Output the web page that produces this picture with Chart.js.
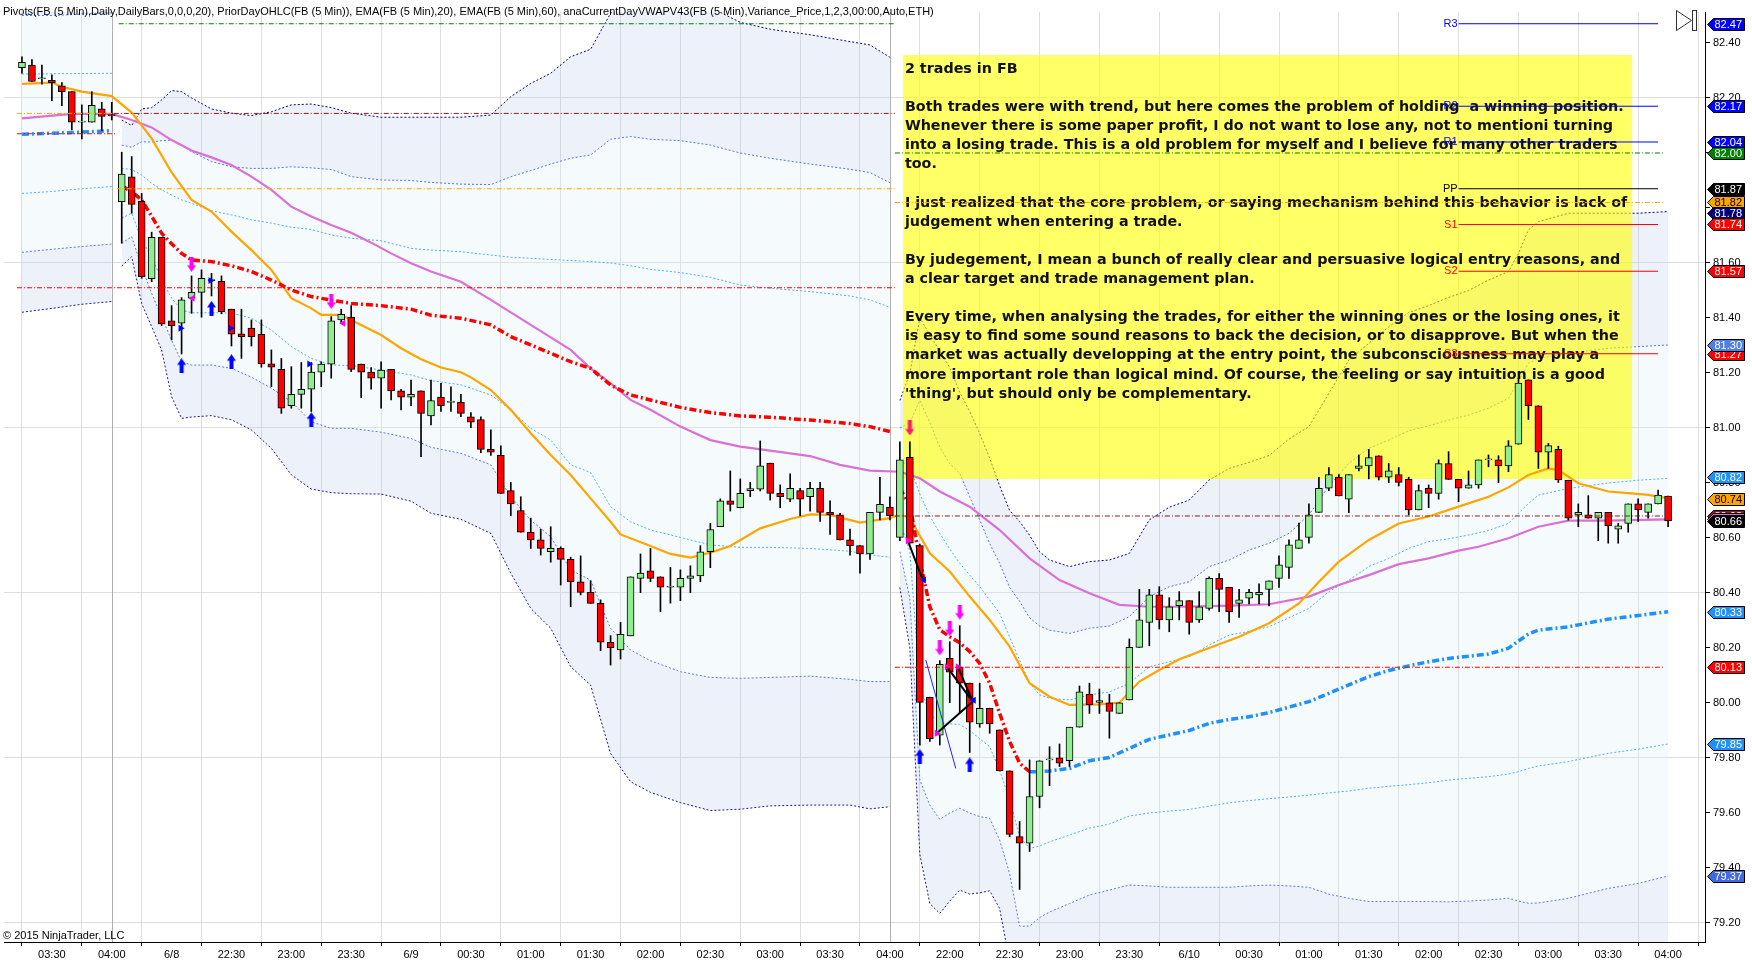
<!DOCTYPE html>
<html><head><meta charset="utf-8">
<script src="https://cdn.jsdelivr.net/npm/chart.js@4.4.1/dist/chart.umd.min.js"></script>
<style>html,body{margin:0;padding:0;background:#fff;overflow:hidden}canvas{display:block}</style>
</head><body>
<canvas id="c" width="1752" height="969"></canvas>
<script>
// ---------- DATA ----------
const openP = [82.31,82.32,82.27,82.264,82.244,82.223,82.112,82.112,82.161,82.14,
81.823,81.913,81.824,81.543,81.693,81.39,81.381,81.472,81.493,81.536,
81.533,81.432,81.342,81.363,81.341,81.233,81.213,81.081,81.122,81.141,
81.203,81.232,81.393,81.403,81.232,81.203,81.181,81.213,81.135,81.112,
81.135,81.044,81.112,81.093,81.093,81.041,81.031,80.922,80.901,80.772,
80.7,80.621,80.593,80.55,80.562,80.522,80.441,80.402,80.362,80.221,
80.193,80.244,80.453,80.481,80.459,80.421,80.421,80.453,80.462,80.55,
80.641,80.735,80.71,80.772,80.778,80.872,80.762,80.741,80.772,80.75,
80.781,80.693,80.684,80.593,80.572,80.542,80.693,80.712,80.602,80.893,
80.572,80.021,79.883,80.162,80.13,80.072,79.924,79.981,79.902,79.753,
79.514,79.49,79.66,79.793,79.801,79.79,79.912,80.032,80.002,80.001,
79.962,80.011,80.202,80.293,80.393,80.302,80.354,80.372,80.302,80.344,
80.453,80.421,80.362,80.381,80.393,80.413,80.453,80.493,80.562,80.602,
80.693,80.781,80.821,80.741,80.853,80.862,80.899,80.821,80.831,80.813,
80.702,80.781,80.762,80.871,80.813,80.781,80.793,80.884,80.884,80.862,
80.941,81.175,81.081,80.912,80.922,80.81,80.684,80.684,80.672,80.693,
80.632,80.653,80.724,80.693,80.724,80.752];
const highP = [82.35,82.34,82.32,82.284,82.256,82.223,82.175,82.223,82.184,82.184,
82.003,81.987,81.853,81.712,81.693,81.445,81.474,81.553,81.575,81.562,
81.553,81.432,81.432,81.393,81.393,81.284,81.253,81.223,81.238,81.238,
81.241,81.405,81.432,81.445,81.232,81.22,81.241,81.213,81.141,81.174,
81.135,81.174,81.162,81.15,81.122,81.056,81.041,80.993,80.935,80.802,
80.75,80.672,80.632,80.641,80.568,80.53,80.535,80.444,80.375,80.245,
80.293,80.459,80.542,80.562,80.459,80.493,80.484,80.499,80.572,80.653,
80.742,80.844,80.815,80.802,80.953,80.872,80.793,80.833,80.781,80.802,
80.802,80.735,80.69,80.632,80.572,80.693,80.821,80.75,80.95,80.95,
80.578,80.021,80.154,80.223,80.281,80.072,80.072,79.981,79.902,79.753,
79.569,79.793,79.79,79.841,79.851,79.912,80.062,80.072,80.051,80.032,
80.001,80.233,80.413,80.413,80.423,80.383,80.405,80.372,80.405,80.459,
80.471,80.421,80.413,80.413,80.433,80.444,80.535,80.593,80.654,80.724,
80.821,80.856,80.831,80.831,80.902,80.922,80.899,80.871,80.856,80.821,
80.793,80.793,80.884,80.914,80.813,80.844,80.884,80.902,80.899,80.954,
81.181,81.175,81.081,80.944,80.934,80.81,80.724,80.754,80.693,80.693,
80.653,80.724,80.742,80.724,80.774,80.752];
const lowP = [82.29,82.26,82.25,82.19,82.172,82.084,82.051,82.112,82.081,82.12,
81.672,81.781,81.544,81.532,81.372,81.32,81.269,81.417,81.403,81.48,
81.415,81.298,81.253,81.298,81.221,81.15,81.053,81.072,81.072,81.06,
81.15,81.181,81.381,81.205,81.11,81.141,81.072,81.102,81.066,81.081,
80.896,81.011,81.06,81.06,81.041,81.001,80.91,80.9,80.762,80.681,
80.621,80.562,80.538,80.512,80.429,80.35,80.393,80.362,80.19,80.138,
80.16,80.244,80.401,80.441,80.332,80.363,80.372,80.401,80.441,80.492,
80.641,80.698,80.71,80.75,80.771,80.738,80.71,80.732,80.68,80.698,
80.66,80.613,80.593,80.538,80.472,80.522,80.666,80.666,80.59,80.581,
79.847,79.86,79.847,80.001,79.965,79.82,79.912,79.89,79.753,79.514,
79.322,79.46,79.619,79.699,79.769,79.769,79.912,79.962,79.962,79.872,
79.962,80.011,80.202,80.208,80.269,80.259,80.302,80.25,80.293,80.338,
80.332,80.293,80.311,80.36,80.36,80.353,80.42,80.453,80.562,80.581,
80.693,80.772,80.753,80.692,80.844,80.815,80.811,80.801,80.789,80.684,
80.702,80.71,80.741,80.813,80.732,80.781,80.781,80.859,80.801,80.841,
80.941,81.031,80.853,80.853,80.802,80.665,80.641,80.672,80.59,80.581,
80.581,80.621,80.66,80.672,80.724,80.641];
const closeP = [82.33,82.26,82.27,82.256,82.223,82.112,82.112,82.173,82.133,82.135,
81.923,81.813,81.55,81.693,81.378,81.372,81.466,81.493,81.544,81.536,
81.423,81.341,81.332,81.332,81.233,81.221,81.072,81.122,81.141,81.203,
81.232,81.39,81.413,81.213,81.203,81.181,81.211,81.135,81.112,81.122,
81.053,81.1,81.081,81.093,81.053,81.021,80.922,80.912,80.762,80.724,
80.621,80.593,80.562,80.562,80.522,80.441,80.402,80.362,80.221,80.201,
80.25,80.459,80.472,80.453,80.421,80.421,80.453,80.462,80.55,80.631,
80.735,80.722,80.762,80.78,80.862,80.762,80.75,80.781,80.741,80.781,
80.693,80.684,80.593,80.572,80.542,80.693,80.722,80.681,80.884,80.581,
80.002,79.87,80.141,80.112,80.072,79.93,79.981,79.924,79.753,79.522,
79.49,79.66,79.79,79.793,79.781,79.912,80.041,79.993,80.009,79.969,
80.001,80.202,80.302,80.393,80.302,80.35,80.372,80.293,80.35,80.453,
80.413,80.332,80.375,80.402,80.402,80.444,80.502,80.575,80.593,80.684,
80.781,80.831,80.753,80.831,80.862,80.892,80.821,80.844,80.802,80.702,
80.772,80.762,80.871,80.813,80.781,80.793,80.884,80.884,80.862,80.935,
81.163,81.081,80.912,80.936,80.811,80.672,80.693,80.672,80.693,80.644,
80.644,80.724,80.702,80.724,80.756,80.662];

const tickIdx = [3,9,15,21,27,33,39,45,51,57,63,69,75,81,87,93,99,105,111,117,123,129,135,141,147,153,159,165];
const tickText = ['03:30','04:00','6/8','22:30','23:00','23:30','6/9','00:30','01:00','01:30','02:00','02:30','03:00','03:30','04:00','22:00','22:30','23:00','23:30','6/10','00:30','01:00','01:30','02:00','02:30','03:00','03:30','04:00'];
const sessionBreaks = [9,87];
const priceTicks = [79.2,79.4,79.6,79.8,80.0,80.2,80.4,80.6,80.8,81.0,81.2,81.4,81.6,81.8,82.0,82.2,82.4];

const ema20Idx = [0,3,4,6,9,11,13,15,17,19,21,23,25,27,29,30,32,33,36,38,40,42,44,45,47,49,51,53,55,57,59,60,63,65,67,69,71,74,77,79,81,84,87,88,89,91,93,95,97,99,101,103,105,108,110,112,114,116,119,122,125,128,130,132,135,138,141,144,147,149,151,153,154,156,159,161,163,165];
const ema20Val = [82.251,82.256,82.241,82.223,82.207,82.147,82.053,81.929,81.829,81.787,81.714,81.647,81.575,81.472,81.435,81.411,81.411,81.393,81.338,81.29,81.25,81.22,81.203,81.184,81.138,81.066,80.981,80.902,80.829,80.744,80.659,80.613,80.571,80.542,80.529,80.547,80.571,80.635,80.669,80.686,80.684,80.656,80.672,80.686,80.672,80.544,80.478,80.387,80.302,80.205,80.072,80.023,79.993,79.995,80.001,80.078,80.12,80.159,80.20,80.241,80.29,80.362,80.441,80.514,80.593,80.653,80.678,80.714,80.75,80.784,80.829,80.853,80.847,80.799,80.769,80.763,80.757,80.744];
const ema60Idx = [0,5,9,11,13,15,17,19,21,23,25,27,29,31,33,35,37,39,41,44,47,51,55,57,59,61,63,66,69,72,75,79,82,85,88,90,92,95,98,101,104,107,110,113,116,119,122,125,129,132,135,138,141,144,146,149,152,155,159,165];
const ema60Val = [82.126,82.142,82.142,82.12,82.093,82.047,82.009,81.984,81.956,81.914,81.866,81.805,81.769,81.738,81.71,81.674,81.635,81.599,81.569,81.532,81.466,81.375,81.284,81.217,81.162,81.102,81.066,81.005,80.956,80.932,80.918,80.898,80.866,80.845,80.841,80.817,80.769,80.714,80.629,80.526,80.447,80.399,80.357,80.35,80.35,80.352,80.355,80.359,80.387,80.429,80.465,80.505,80.526,80.554,80.568,80.599,80.641,80.663,80.663,80.668];

// VWAP and deviation bands, per session
const d0Idx = [0,3,6,9];
const d0Vwap = [82.068,82.072,82.076,82.081];
const d0U1 = [82.287,82.288,82.289,82.29];
const d0U2 = [82.50,82.50,82.505,82.51];
const d0U3 = [82.72,82.72,82.73,82.73];
const d0L1 = [81.853,81.86,81.87,81.878];
const d0L2 = [81.639,81.65,81.66,81.669];
const d0L3 = [81.421,81.435,81.45,81.46];

const d1Idx = [10,11,12,13,14,15,16,17,19,21,23,25,27,29,31,33,36,39,41,44,47,49,51,53,55,57,59,61,63,66,69,72,75,79,83,85,87];
const d1Vwap = [81.88,81.86,81.829,81.77,81.708,81.67,81.635,81.611,81.605,81.59,81.569,81.538,81.502,81.478,81.465,81.453,81.445,81.432,81.41,81.399,81.375,81.332,81.302,81.272,81.241,81.217,81.156,81.12,81.102,81.075,81.056,81.044,81.039,81.029,81.016,81.005,80.987];
const d1U3 = [82.12,82.10,82.16,82.165,82.193,82.227,82.223,82.20,82.16,82.145,82.136,82.15,82.175,82.178,82.165,82.145,82.13,82.13,82.13,82.13,82.138,82.205,82.253,82.29,82.35,82.377,82.508,82.60,82.63,82.63,82.53,82.475,82.45,82.43,82.405,82.393,82.348];
const d1U2 = [82.029,82.021,82.041,82.04,82.045,82.047,82.029,82.005,81.969,81.95,81.944,81.944,81.95,81.946,81.94,81.914,81.902,81.90,81.893,81.887,81.885,81.914,81.936,81.96,81.981,81.993,82.05,82.06,82.05,82.045,82.029,82.0,81.981,81.96,81.941,81.929,81.892];
const d1U1 = [81.944,81.94,81.92,81.89,81.866,81.847,81.83,81.817,81.79,81.775,81.757,81.745,81.73,81.722,81.702,81.69,81.681,81.653,81.647,81.641,81.629,81.621,81.617,81.613,81.609,81.605,81.60,81.59,81.577,81.565,81.548,81.52,81.508,81.496,81.48,81.466,81.439];
const d1L1 = [81.763,81.781,81.684,81.623,81.538,81.472,81.429,81.419,81.419,81.418,81.399,81.356,81.296,81.253,81.229,81.227,81.211,81.193,81.172,81.157,81.12,81.066,80.999,80.956,80.866,80.838,80.714,80.659,80.629,80.602,80.575,80.566,80.566,80.562,80.552,80.538,80.53];
const d1L2 = [81.672,81.696,81.587,81.49,81.405,81.32,81.241,81.229,81.229,81.217,81.185,81.145,81.096,81.023,80.999,80.999,80.985,80.962,80.93,80.908,80.866,80.75,80.665,80.605,80.484,80.447,80.272,80.193,80.154,80.114,80.093,80.09,80.093,80.098,80.086,80.078,80.078];
const d1L3 = [81.589,81.623,81.453,81.369,81.284,81.114,81.035,81.04,81.045,81.03,80.993,80.926,80.83,80.778,80.765,80.761,80.76,80.734,80.69,80.668,80.617,80.472,80.344,80.272,80.132,80.065,79.817,79.714,79.675,79.638,79.609,79.614,79.626,79.629,79.629,79.615,79.623];

const d2Idx = [88,89,90,91,92,93,94,95,96,97,98,99,100,101,102,103,105,107,109,111,113,115,117,119,121,123,125,127,129,131,133,135,137,139,141,143,145,147,149,150,151,152,155,159,162,165];
const d2Vwap = [80.78,80.72,80.52,80.35,80.266,80.241,80.219,80.187,80.144,80.072,79.962,79.86,79.781,79.75,79.75,79.753,79.762,79.79,79.802,79.835,79.868,79.884,79.90,79.926,79.94,79.95,79.965,79.985,80.005,80.035,80.066,80.096,80.118,80.135,80.15,80.162,80.17,80.178,80.199,80.225,80.251,80.265,80.277,80.305,80.318,80.332];
const d2U3 = [81.10,81.20,81.40,81.34,81.28,81.22,81.13,81.06,80.98,80.89,80.79,80.70,80.66,80.61,80.55,80.52,80.496,80.514,80.52,80.544,80.666,80.712,80.738,80.811,80.853,80.875,80.90,80.96,81.005,81.126,81.247,81.308,81.368,81.42,81.445,81.475,81.50,81.538,81.569,81.635,81.72,81.75,81.781,81.781,81.781,81.787];
const d2U2 = [81.00,81.02,81.10,81.02,80.93,80.87,80.835,80.75,80.666,80.58,80.508,80.42,80.37,80.31,80.28,80.265,80.253,80.272,80.28,80.314,80.387,80.423,80.441,80.496,80.52,80.556,80.581,80.617,80.684,80.789,80.872,80.926,80.956,80.99,81.008,81.029,81.047,81.072,81.108,81.17,81.235,81.253,81.272,81.29,81.296,81.302];
const d2U1 = [80.88,80.86,80.76,80.68,80.617,80.56,80.508,80.465,80.423,80.375,80.326,80.24,80.156,80.072,80.03,80.017,80.011,80.029,80.04,80.072,80.132,80.15,80.168,80.211,80.247,80.26,80.278,80.31,80.344,80.405,80.447,80.496,80.526,80.562,80.587,80.597,80.611,80.627,80.653,80.69,80.725,80.756,80.78,80.80,80.81,80.817];
const d2L1 = [80.66,80.55,80.06,79.96,79.93,79.924,79.922,79.90,79.87,79.841,79.756,79.647,79.514,79.471,79.48,79.495,79.52,79.545,79.56,79.589,79.60,79.607,79.613,79.625,79.637,79.645,79.652,79.658,79.665,79.673,79.68,79.69,79.697,79.703,79.71,79.72,79.726,79.732,79.742,79.75,79.762,79.771,79.787,79.817,79.832,79.851];
const d2L2 = [80.55,80.38,79.72,79.629,79.577,79.60,79.617,79.60,79.587,79.581,79.502,79.38,79.189,79.189,79.22,79.24,79.271,79.302,79.32,79.338,79.335,79.33,79.33,79.33,79.33,79.335,79.338,79.335,79.33,79.305,79.29,79.278,79.278,79.278,79.278,79.277,79.28,79.284,79.29,79.28,79.272,79.273,79.29,79.326,79.344,79.371];
const d2L3 = [80.42,80.20,79.45,79.271,79.235,79.28,79.32,79.305,79.31,79.317,79.253,79.06,78.95,78.89,78.95,78.99,79.03,79.06,79.08,79.12,79.07,79.05,79.06,79.04,79.03,79.02,79.03,79.01,79.0,78.94,78.88,78.88,78.87,78.85,78.85,78.85,78.84,78.82,78.83,78.81,78.78,78.78,78.77,78.83,78.85,78.88];

// prior-day OHLC lines
const priorVals = [82.144,82.07,82.47,82.144,81.87,81.51,82.00,81.82,80.68,80.13];
const priorFrom = [-0.5,-0.5,9.7,9.2,9.5,-0.5,87.5,87.5,87.5,87.5];
const priorTo   = [9.2,9.5,87.5,87.5,87.5,87.5,164.5,164.5,164.5,164.5];
const priorKind = ['open','low','high','close','open','low','high','open','close','low'];

// daily pivots
const pivotNames = ['R3','R2','R1','PP','S1','S2','S3'];
const pivotVals = [82.47,82.17,82.04,81.87,81.74,81.57,81.27];

// trade markers
const upArrowX = [16,19,21,29,90,95];
const upArrowY = [81.226,81.435,81.241,81.03,79.805,79.775];
const downArrowX = [17,31,92,93,94];
const downArrowY = [81.595,81.46,80.2,80.27,80.33];
const sellArrowX = [89];
const sellArrowY = [81.0];
const entryBlueX = [15.9,18.9,20.9,28.8];
const entryBlueY = [81.363,81.536,81.363,81.233];
const exitMagX = [17.1,32.2];
const exitMagY = [81.472,81.381];
const entryMagX = [88.8,91.7,92.7,93.8];
const entryMagY = [80.59,79.89,80.132,80.132];
const exitBlueX = [90.4,95.4];
const exitBlueY = [80.447,80.01];
const tradeLines = [[88.8,80.59,90.3,80.447],[91.7,79.89,95.3,80.005],[92.7,80.132,95.3,80.005],[93.8,80.132,95.3,80.005]];
const drawnLine = [90.6,80.156,93.6,79.762];

// right-axis price markers
const tagVals = [82.47,82.17,82.04,82.00,81.87,81.82,81.78,81.74,81.57,81.27,81.30,80.82,80.74,80.68,80.67,80.66,80.33,80.13,79.85,79.37];

const titleText = 'Pivots(FB (5 Min),Daily,DailyBars,0,0,0,20), PriorDayOHLC(FB (5 Min)), EMA(FB (5 Min),20), EMA(FB (5 Min),60), anaCurrentDayVWAPV43(FB (5 Min),Variance_Price,1,2,3,00:00,Auto,ETH)';
const noteLines = [
'2 trades in FB',
'',
'Both trades were with trend, but here comes the problem of holding  a winning position.',
'Whenever there is some paper profit, I do not want to lose any, not to mentioni turning',
'into a losing trade. This is a old problem for myself and I believe for many other traders',
'too.',
'',
'I just realized that the core problem, or saying mechanism behind this behavior is lack of',
'judgement when entering a trade.',
'',
'By judegement, I mean a bunch of really clear and persuasive logical entry reasons, and',
'a clear target and trade management plan.',
'',
'Every time, when analysing the trades, for either the winning ones or the losing ones, it',
'is easy to find some sound reasons to back the decision, or to disapprove. But when the',
'market was actually developping at the entry point, the subconsciousness may play a',
'more important role than logical mind. Of course, the feeling or say intuition is a good',
'\'thing\', but should only be complementary.'
];

// ---------- STYLE / LAYOUT ----------
const C = {
  green:'#90ee90', red:'#ff0000', navy:'#000080', royal:'#4169e1', dodger:'#1e90ff',
  orange:'#ffa500', orchid:'#da70d6', darkred:'#8b1a1a', pgreen:'#008000',
  cyan:'rgba(219,239,243,0.28)', lav:'rgba(187,199,231,0.26)'
};
const noteBox = {left:88.3, right:161.4, top:82.3564, bottom:80.8145};
const FONT = "'Liberation Sans', Arial, sans-serif";
Chart.defaults.font.family = FONT;
Chart.defaults.font.size = 11;
Chart.defaults.color = '#000';

const pts = (ix, vals) => ix.map((x, k) => ({x, y: vals[k]}));
const datasets = [];

function bandSet(ix, u3, u2, u1, l1, l2, l3) {
  const k = datasets.length;
  const line = (data, color, extra) => Object.assign({type:'line', data, borderColor:color, borderWidth:1,
    borderDash:[2,2], pointRadius:0, tension:0, order:100, fill:false}, extra || {});
  datasets.push(line(pts(ix,u3), C.navy, {fill:{target:k+1, above:C.lav, below:C.lav}, backgroundColor:C.lav}));
  datasets.push(line(pts(ix,u2), C.royal, {fill:{target:k+2, above:C.cyan, below:C.cyan}, backgroundColor:C.cyan}));
  datasets.push(line(pts(ix,l2), C.royal, {fill:{target:k+3, above:C.lav, below:C.lav}, backgroundColor:C.lav}));
  datasets.push(line(pts(ix,l3), C.navy));
  datasets.push(line(pts(ix,u1), C.dodger));
  datasets.push(line(pts(ix,l1), C.dodger));
}
bandSet(d0Idx, d0U3, d0U2, d0U1, d0L1, d0L2, d0L3);
bandSet(d1Idx, d1U3, d1U2, d1U1, d1L1, d1L2, d1L3);
bandSet(d2Idx, d2U3, d2U2, d2U1, d2L1, d2L2, d2L3);

const lineDs = (data, color, width, dash, order) => ({type:'line', data, borderColor:color, borderWidth:width,
  borderDash:dash||[], pointRadius:0, tension:0, fill:false, order});
datasets.push(lineDs(pts(ema60Idx, ema60Val), C.orchid, 2.2, [], 60));
datasets.push(lineDs(pts(ema20Idx, ema20Val), C.orange, 2.2, [], 59));
const vwDash = [7,3,2,3];
datasets.push(lineDs(pts(d0Idx, d0Vwap), C.dodger, 3.5, vwDash, 58));
datasets.push(lineDs(pts(d1Idx, d1Vwap), C.red, 3.5, vwDash, 58));
datasets.push(lineDs(pts(d2Idx.slice(0,14), d2Vwap.slice(0,14)), C.red, 3.5, vwDash, 58));
datasets.push(lineDs(pts(d2Idx.slice(13), d2Vwap.slice(13)), C.dodger, 3.5, vwDash, 58));

// candles
const barIdx = openP.map((_, i) => i);
datasets.push({type:'bar', data: barIdx.map(i => ({x:i, y:[lowP[i], highP[i]]})), backgroundColor:'#000',
  borderWidth:0, barThickness:1, grouped:false, order:45});
datasets.push({type:'bar', data: barIdx.map(i => ({x:i, y:[Math.min(openP[i],closeP[i]), Math.max(openP[i],closeP[i])]})),
  backgroundColor: barIdx.map(i => closeP[i] >= openP[i] ? C.green : C.red),
  borderColor:'#000', borderWidth:1, borderSkipped:false, barThickness:7, minBarLength:1, grouped:false, order:40});

// trade lines
tradeLines.forEach(t => datasets.push(lineDs([{x:t[0],y:t[1]},{x:t[2],y:t[3]}], '#000', 2, [], 35)));
datasets.push(lineDs([{x:drawnLine[0],y:drawnLine[1]},{x:drawnLine[2],y:drawnLine[3]}], '#2020ff', 1, [], 35));

// marker images
function arrowImg(color, up) {
  const c = document.createElement('canvas'); c.width = 9; c.height = 15;
  const g = c.getContext('2d'); g.fillStyle = color;
  if (up) { g.beginPath(); g.moveTo(4.5,0); g.lineTo(9,6.5); g.lineTo(0,6.5); g.closePath(); g.fill(); g.fillRect(2.5,6,4,9); }
  else { g.fillRect(2.5,0,4,9); g.beginPath(); g.moveTo(0,8.5); g.lineTo(9,8.5); g.lineTo(4.5,15); g.closePath(); g.fill(); }
  return c;
}
const markerDs = (xs, ys, style, color, rot, r) => ({type:'line', showLine:false, data: pts(xs, ys),
  pointStyle: style, pointRadius: r || 4, pointRotation: rot || 0, pointBackgroundColor: color, pointBorderColor: color,
  pointBorderWidth: 0, order:30});
datasets.push(markerDs(upArrowX, upArrowY, arrowImg('#0000ff', true)));
datasets.push(markerDs(downArrowX, downArrowY, arrowImg('#ff00ff', false)));
datasets.push(markerDs(sellArrowX, sellArrowY, arrowImg('#ff1a6a', false)));
datasets.push(markerDs(entryBlueX, entryBlueY, 'triangle', '#0000ff', 90, 4));
datasets.push(markerDs(exitMagX, exitMagY, 'triangle', '#ff00ff', -90, 4));
datasets.push(markerDs(entryMagX, entryMagY, 'triangle', '#ff00ff', 90, 4));
datasets.push(markerDs(exitBlueX, exitBlueY, 'triangle', '#0000ff', -90, 4));

// prior-day and pivot lines (drawn on top of the note)
const priorColor = {open:C.orange, low:C.red, high:C.pgreen, close:C.darkred};
priorVals.forEach((v, k) => datasets.push(lineDs([{x:priorFrom[k],y:v},{x:priorTo[k],y:v}], priorColor[priorKind[k]], 1, [5,2,1,2], 5)));
const pivotColors = ['#0000ff','#0000ff','#0000ff','#000','#ff0000','#ff0000','#ff0000'];
pivotVals.forEach((v, k) => datasets.push(lineDs([{x:144,y:v},{x:164,y:v}], pivotColors[k], 1, [], 5)));

const tagStyle = [
 ['#0000ff','#fff'],['#0000ff','#fff'],['#0000ff','#fff'],[C.pgreen,'#fff'],['#000','#fff'],[C.orange,'#000'],
 [C.navy,'#fff'],['#ff0000','#fff'],['#ff0000','#fff'],['#ff0000','#fff'],['#4f7fe4','#fff'],[C.dodger,'#fff'],
 [C.orange,'#000'],[C.darkred,'#fff'],[C.orchid,'#fff'],['#000','#fff'],[C.dodger,'#fff'],['#ff0000','#fff'],
 [C.dodger,'#fff'],[C.royal,'#fff']];

// ---------- PLUGIN: session lines, note box, texts, price tags ----------
function drawBox(chart) {
  const {ctx, chartArea:a, scales:{x, y}} = chart;
  const L = x.getPixelForValue(noteBox.left), R = x.getPixelForValue(noteBox.right);
  const T = y.getPixelForValue(noteBox.top), B = y.getPixelForValue(noteBox.bottom);
  ctx.save(); ctx.beginPath(); ctx.rect(a.left, a.top, a.right-a.left, a.bottom-a.top); ctx.clip();
  ctx.fillStyle = 'rgba(255,255,0,0.6)'; ctx.fillRect(L, T, R-L, B-T); ctx.restore();
}
function drawNote(chart) {
  const {ctx, scales:{x, y}} = chart;
  const L = x.getPixelForValue(noteBox.left), R = x.getPixelForValue(noteBox.right);
  const T = y.getPixelForValue(noteBox.top);
  ctx.save();
  ctx.font = "bold 14px 'DejaVu Sans'";
  const w = ctx.measureText(noteLines[2]).width;
  const size = Math.min(15, 14 * (R - L - 10) / w);
  ctx.font = 'bold ' + size.toFixed(2) + "px 'DejaVu Sans'";
  ctx.fillStyle = '#111'; ctx.textBaseline = 'alphabetic';
  noteLines.forEach((s, k) => { if (s) ctx.fillText(s, L + 2, T + 18 + k * 19.1); });
  ctx.restore();
}
const notePlugin = {
  id:'note',
  beforeDatasetsDraw(chart){
    chart.$box = false; chart.$note = false;
    const {ctx, chartArea:a, scales:{x}} = chart;
    ctx.save(); ctx.strokeStyle = '#b0b0b0'; ctx.lineWidth = 1;
    sessionBreaks.forEach(v => { const px = Math.round(x.getPixelForValue(v)) + 0.5;
      ctx.beginPath(); ctx.moveTo(px, a.top); ctx.lineTo(px, a.bottom); ctx.stroke(); });
    ctx.restore();
  },
  beforeDatasetDraw(chart, args){
    const o = chart.data.datasets[args.index].order;
    if (!chart.$box && o < 100) { drawBox(chart); chart.$box = true; }
    if (!chart.$note && o < 20) { drawNote(chart); chart.$note = true; }
  },
  afterDatasetsDraw(chart){ if (!chart.$box) drawBox(chart); if (!chart.$note) drawNote(chart); },
  afterDraw(chart){
    const {ctx, chartArea:a, scales:{x, y}} = chart;
    ctx.save();
    ctx.font = '11px ' + FONT; ctx.textAlign = 'right'; ctx.textBaseline = 'middle';
    pivotVals.forEach((v, k) => { ctx.fillStyle = pivotColors[k]; ctx.fillText(pivotNames[k], x.getPixelForValue(144) - 1, y.getPixelForValue(v)); });
    ctx.textAlign = 'left';
    tagVals.forEach((v, k) => {
      const py = Math.round(y.getPixelForValue(v)) + 0.5, x0 = a.right + 2.5, x1 = x0 + 6, x2 = x0 + 37, h = 12;
      ctx.beginPath(); ctx.moveTo(x0, py); ctx.lineTo(x1, py - h/2); ctx.lineTo(x2, py - h/2); ctx.lineTo(x2, py + h/2); ctx.lineTo(x1, py + h/2); ctx.closePath();
      ctx.fillStyle = tagStyle[k][0]; ctx.fill(); ctx.strokeStyle = '#000'; ctx.lineWidth = 1; ctx.stroke();
      ctx.fillStyle = tagStyle[k][1]; ctx.fillText(v.toFixed(2), x1 + 1, py + 0.5);
    });
    ctx.fillStyle = '#000'; ctx.font = '11px ' + FONT; ctx.textBaseline = 'middle';
    ctx.fillText(titleText, 3, 12);
    ctx.fillText('\u00a9 2015 NinjaTrader, LLC', 3, a.bottom - 6);
    ctx.strokeStyle = '#333'; ctx.lineWidth = 1;
    ctx.beginPath(); ctx.moveTo(a.right - 28.5, 10.5); ctx.lineTo(a.right - 13.5, 20.5); ctx.lineTo(a.right - 28.5, 30.5); ctx.closePath(); ctx.stroke();
    ctx.strokeRect(a.right - 12.5, 10.5, 4, 20);
    ctx.restore();
  }
};

// ---------- CHART ----------
new Chart(document.getElementById('c'), {
  type:'line',
  data:{datasets},
  options:{
    responsive:false, animation:false, devicePixelRatio:1, events:[],
    layout:{padding:{top:12, left:0, right:0, bottom:0}},
    plugins:{legend:{display:false}, tooltip:{enabled:false}},
    scales:{
      x:{type:'linear', min:-1.8, max:168.7, offset:false,
        afterBuildTicks: s => { s.ticks = tickIdx.map(v => ({value:v})); },
        afterFit: s => { s.height = 27; },
        ticks:{autoSkip:false, maxRotation:0, padding:2, color:'#000', font:{size:11},
          callback: v => tickText[tickIdx.indexOf(v)] || ''},
        grid:{color:'#dedede', tickColor:'#000', tickLength:4, lineWidth:1},
        border:{display:true, color:'#000', width:1}},
      y:{type:'linear', position:'right', min:79.1309, max:82.5127,
        afterBuildTicks: s => { s.ticks = priceTicks.map(v => ({value:v})); },
        afterFit: s => { s.width = 47; },
        ticks:{autoSkip:false, padding:3, color:'#000', font:{size:11}, callback: v => Number(v).toFixed(2)},
        grid:{color: c => (c.tick && Math.round(c.tick.value*100) % 60 === 0) ? '#dedede' : 'rgba(0,0,0,0)', tickColor:'#000', tickLength:5},
        border:{display:true, color:'#000', width:1}}
    }
  },
  plugins:[notePlugin]
});
</script>
</body></html>
